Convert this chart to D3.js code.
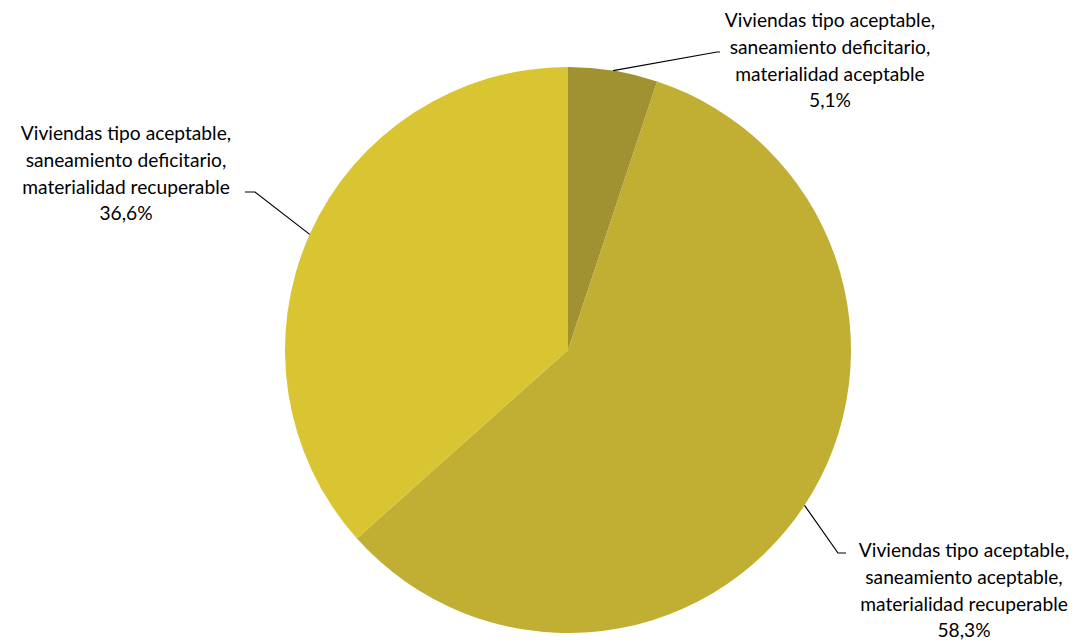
<!DOCTYPE html>
<html>
<head>
<meta charset="utf-8">
<script src="https://cdn.jsdelivr.net/npm/d3@7"></script>
<style>
  body { margin: 0; background: #fff; }
  text { font-family: Lato, "Open Sans", sans-serif; font-size: 19.2px; fill: #000; }
</style>
</head>
<body>
<div id="chart"></div>
<script>
// Datos del gráfico
const categorias = [
    ["Viviendas tipo aceptable,", "saneamiento deficitario,", "materialidad aceptable"],
    ["Viviendas tipo aceptable,", "saneamiento aceptable,", "materialidad recuperable"],
    ["Viviendas tipo aceptable,", "saneamiento deficitario,", "materialidad recuperable"]
];
const valores = [5.1, 58.3, 36.6];
const etiquetas = ["5,1%", "58,3%", "36,6%"];
const colores = ["#A09230", "#C0AF32", "#D9C432"];

const width = 1082, height = 642;
const cx = 568, cy = 350, radius = 283;

// posiciones de las etiquetas (centro del texto, primera línea) y codo de la línea guía
const labelPos = [
    { x: 830, y: 27, elbow: [717, 52], end: [720, 52] },
    { x: 964, y: 557, elbow: [838, 553], end: [846, 553] },
    { x: 126, y: 140, elbow: [255, 192], end: [245, 192] }
];

const svg = d3.select("#chart")
    .append("svg")
    .attr("width", width)
    .attr("height", height);

const g = svg.append("g")
    .attr("transform", `translate(${cx},${cy})`);

const pie = d3.pie().sort(null).value(d => d);
const arcs = pie(valores);

const arc = d3.arc().innerRadius(0).outerRadius(radius);

g.selectAll(".slice")
    .data(arcs)
    .enter()
    .append("path")
    .attr("class", "slice")
    .attr("d", arc)
    .attr("fill", (d, i) => colores[i])
    .attr("stroke", "none");

// Líneas guía
arcs.forEach((d, i) => {
    const a = (d.startAngle + d.endAngle) / 2;
    const p0 = [cx + radius * Math.sin(a), cy - radius * Math.cos(a)];
    const lp = labelPos[i];
    svg.append("polyline")
        .attr("points", [p0, lp.elbow, lp.end].map(p => p.join(",")).join(" "))
        .attr("fill", "none")
        .attr("stroke", "#000")
        .attr("stroke-width", 1.2);
});

// Etiquetas
arcs.forEach((d, i) => {
    const lp = labelPos[i];
    const lines = categorias[i].concat([etiquetas[i]]);
    const t = svg.append("text")
        .attr("text-anchor", "middle")
        .attr("x", lp.x)
        .attr("y", lp.y);
    lines.forEach((l, j) => {
        t.append("tspan")
            .attr("x", lp.x)
            .attr("dy", j === 0 ? 0 : 26.8)
            .text(l);
    });
});
</script>
</body>
</html>
